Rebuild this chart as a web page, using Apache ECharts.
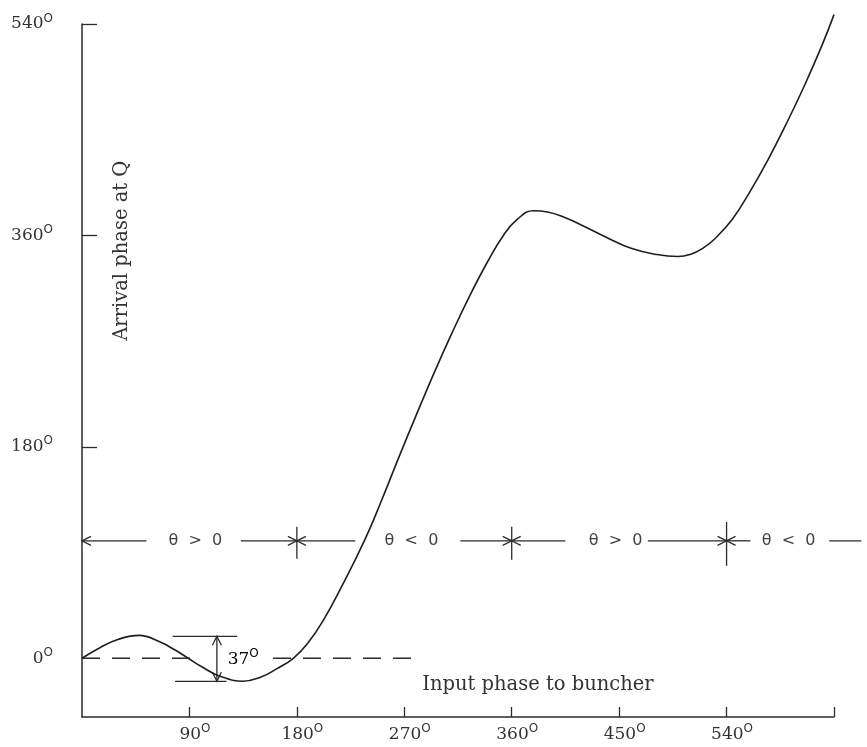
<!DOCTYPE html>
<html><head><meta charset="utf-8">
<script src="https://cdn.jsdelivr.net/npm/echarts@6/dist/echarts.min.js"></script>
<style>html,body{margin:0;padding:0;background:#fff}#c{width:867px;height:747px}</style>
</head><body><div id="c"></div>
<script>
// ---- data ----
const inputPhase   = [0,15,30,48,65,78,89,100,115,135,150,163,177,190,202,218,237,250,265,280,295,310,325,340,353,365,378,390,405,420,440,460,480,499,510,520,530,545,560,575,590,605,620,630];
const arrivalPhase = [0,9,16,19.5,14,7,0,-7,-15,-19.5,-16,-9,0,14,32,62,101,132,170,207,243,277,309,338,360,374,381,380,375,368,358,349,344,342,344,349,357,374,398,425,455,487,522,548];
const xTickValues  = [90,180,270,360,450,540,630];
const xLabelValues = [90,180,270,360,450,540];
const yTickValues  = [180,360,540];
const yLabelValues = [0,180,360,540];
const zeroLineSegments = [[0,99],[160,277]];
const bandY = 100;
const bandBoundaries = [180,360,540];
const bandSegments = [[0,54,'start'],[133,180,'end'],[180,229,'start'],[317,360,'end'],[360,405,'start'],[474,540,'end'],[540,560,'start'],[626,653,'none']];
const bandLabels  = ['θ  >  0','θ  <  0','θ  >  0','θ  <  0'];
const bandLabelX  = [95,276,447,592];
const swingTop = 18.7, swingBottom = -19.6, swingLabel = '37';
const xAxisTitle = 'Input phase to buncher';
const yAxisTitle = 'Arrival phase at Q';

const INK = '#2b2b2b';
const SERIF = '"DejaVu Serif", serif';

function degRich(leftPad) {
  return {
    a: {fontSize: 17, fontFamily: SERIF, color: '#333', padding: [0,0,0,leftPad]},
    s: {fontSize: 12, fontFamily: '"DejaVu Sans", sans-serif', color: '#333', padding: [0,0,11,0]}
  };
}

function renderAnnotations(params, api) {
  const P = (x, y) => api.coord([x, y]);
  const ch = [];
  const line = (a, b, extra) => ch.push({type:'line', shape:{x1:a[0],y1:a[1],x2:b[0],y2:b[1]},
      style:Object.assign({stroke:INK, lineWidth:1.3}, extra||{})});
  const head = (p, dir) => {
    const L = 9, W = 4.5; let pts;
    if (dir === 'left')  pts = [[p[0]+L,p[1]-W],[p[0],p[1]],[p[0]+L,p[1]+W]];
    if (dir === 'right') pts = [[p[0]-L,p[1]-W],[p[0],p[1]],[p[0]-L,p[1]+W]];
    if (dir === 'up')    pts = [[p[0]-W,p[1]+L],[p[0],p[1]],[p[0]+W,p[1]+L]];
    if (dir === 'down')  pts = [[p[0]-W,p[1]-L],[p[0],p[1]],[p[0]+W,p[1]-L]];
    ch.push({type:'polyline', shape:{points:pts}, style:{stroke:INK, fill:null, lineWidth:1.3}});
  };
  // dashed zero reference line
  zeroLineSegments.forEach(s => line(P(s[0],0), P(s[1],0), {lineDash:[18,12]}));
  // theta band
  bandSegments.forEach(s => {
    const a = P(s[0], bandY), b = P(s[1], bandY);
    line(a, b);
    if (s[2] === 'start') head(a, 'left');
    if (s[2] === 'end') head(b, 'right');
  });
  const tickExt = [[14,18],[14,19],[19,25]];
  bandBoundaries.forEach((v, i) => {
    const c = P(v, bandY);
    line([c[0], c[1]-tickExt[i][0]], [c[0], c[1]+tickExt[i][1]]);
  });
  bandLabels.forEach((t, i) => {
    const c = P(bandLabelX[i], bandY);
    ch.push({type:'text', x:c[0], y:c[1], style:{text:t, fill:'#444', font:'16px "DejaVu Sans", sans-serif', align:'center', verticalAlign:'middle'}});
  });
  // 37 degree swing bracket
  line(P(76, swingTop), P(130, swingTop));
  line(P(78, swingBottom), P(121, swingBottom));
  const at = P(113, swingTop), ab = P(113, swingBottom);
  line(at, ab); head(at, 'up'); head(ab, 'down');
  const lp = P(122, -1);
  ch.push({type:'text', x:lp[0], y:lp[1], style:{text:'{a|' + swingLabel + '}{s|O}', rich:degRich(0), align:'left', verticalAlign:'middle'}});
  // axis titles
  const xt = P(285, -23);
  ch.push({type:'text', x:xt[0], y:xt[1], style:{text:xAxisTitle, fill:'#333', font:'19.5px ' + SERIF, align:'left', verticalAlign:'middle'}});
  const yt = P(33.5, 347);
  ch.push({type:'text', x:yt[0], y:yt[1], rotation:Math.PI/2, style:{text:yAxisTitle, fill:'#333', font:'19.5px ' + SERIF, align:'center', verticalAlign:'middle'}});
  return {type:'group', children:ch};
}

const chart = echarts.init(document.getElementById('c'), null, {renderer:'canvas'});
chart.setOption({
  backgroundColor: '#fff',
  animation: false,
  grid: {left: 82, right: 33, top: 24, bottom: 30, containLabel: false, outerBoundsMode: 'none'},
  xAxis: {
    type: 'value', min: 0, max: 630, position: 'bottom',
    axisLine: {show: true, onZero: false, lineStyle: {color: INK, width: 1.5}},
    axisTick: {show: true, inside: true, length: 10, customValues: xTickValues, lineStyle: {color: INK, width: 1.3}},
    axisLabel: {show: true, margin: 6, customValues: xLabelValues, formatter: v => '{a|' + v + '}{s|O}', rich: degRich(11)},
    splitLine: {show: false}
  },
  yAxis: {
    type: 'value', min: -50, max: 540,
    axisLine: {show: true, onZero: false, lineStyle: {color: INK, width: 1.5}},
    axisTick: {show: true, inside: true, length: 15, customValues: yTickValues, lineStyle: {color: INK, width: 1.3}},
    axisLabel: {show: true, margin: 29, customValues: yLabelValues, formatter: v => '{a|' + v + '}{s|O}', rich: degRich(0)},
    splitLine: {show: false}
  },
  series: [
    {
      type: 'line', data: inputPhase.map((x, i) => [x, arrivalPhase[i]]),
      smooth: 0.45, showSymbol: false, clip: false, z: 3,
      lineStyle: {color: '#1e1e1e', width: 1.6}
    },
    {
      type: 'custom', data: [[0, 0]], renderItem: renderAnnotations, clip: false, silent: true, z: 2
    }
  ]
});
</script>
</body></html>
